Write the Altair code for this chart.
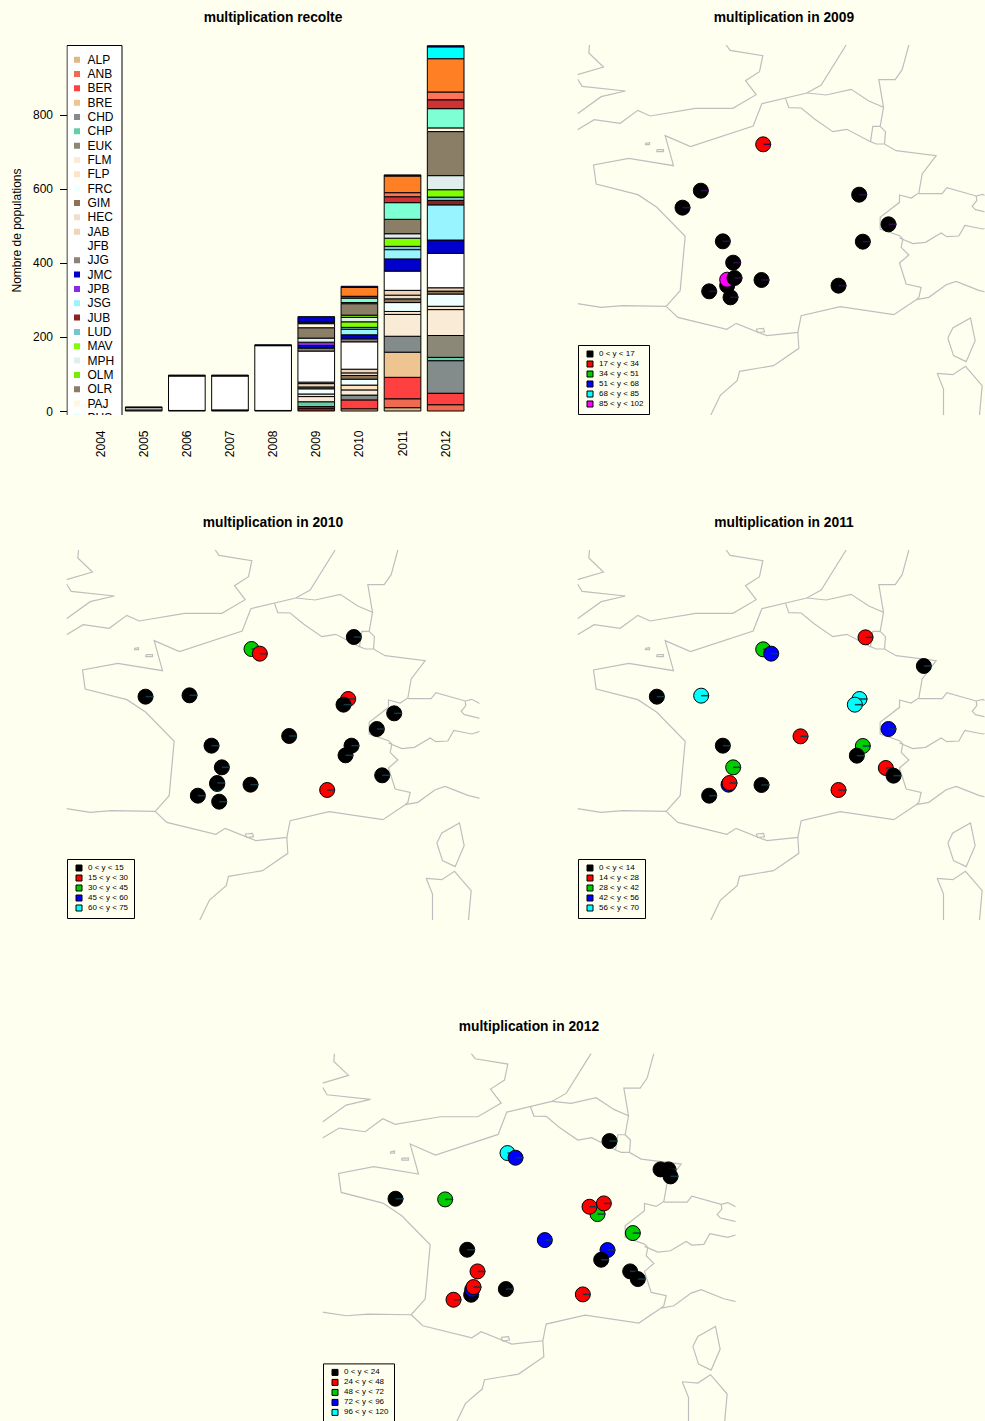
import altair as alt
import pandas as pd

BG = "#FFFFF0"
FONT = "Liberation Sans"

# ---------- bar panel ----------
years = ["2004", "2005", "2006", "2007", "2008", "2009", "2010", "2011", "2012"]
legend_names = ["ALP", "ANB", "BER", "BRE", "CHD", "CHP", "EUK", "FLM", "FLP", "FRC", "GIM", "HEC", "JAB", "JFB",
                "JJG", "JMC", "JPB", "JSG", "JUB", "LUD", "MAV", "MPH", "OLM", "OLR", "PAJ", "PUS"]
cat_names = legend_names + ["RAV", "SAL", "TOU", "VAL"]
cat_colors = ["#DEB887", "#EE6A50", "#FF4040", "#EEC591", "#838B8B", "#66CDAA", "#8B8878", "#FAEBD7", "#FFE4C4",
              "#F0FFFF", "#8B7355", "#EEDFCC", "#EED5B7", "#FFFFFF", "#8B8378", "#0000CD", "#8A2BE2", "#98F5FF",
              "#8B2323", "#7AC5CD", "#7FFF00", "#E0EEEE", "#76EE00", "#8B7E66", "#FFF8DC", "#7FFFD4", "#CD3333",
              "#FF7256", "#FF7F24", "#00FFFF"]

seg_2005 = [("CHD", 3), ("JFB", 6), ("JMC", 2)]
seg_2006 = [("EUK", 1.5), ("JFB", 93), ("JMC", 2.5)]
seg_2007 = [("GIM", 1.5), ("JAB", 1.5), ("JFB", 91.5), ("JMC", 2.5)]
seg_2008 = [("CHD", 1.5), ("JFB", 175), ("JMC", 2.5)]
seg_2009 = [("JUB", 8), ("CHD", 4), ("CHP", 13), ("FLM", 14), ("FLP", 7), ("FRC", 14), ("GIM", 5), ("JAB", 9),
            ("HEC", 4), ("JFB", 84), ("JJG", 8), ("JMC", 7), ("JPB", 9), ("MPH", 11), ("OLR", 28), ("PAJ", 11),
            ("GIM", 4), ("JMC", 15)]
seg_2010 = [("ALP", 6), ("BER", 24), ("CHD", 13), ("FLM", 14), ("FLP", 13), ("FRC", 16), ("GIM", 10), ("HEC", 7),
            ("JAB", 10), ("JFB", 74), ("JJG", 8), ("JMC", 11), ("JSG", 15), ("LUD", 5), ("MAV", 15), ("MPH", 12),
            ("OLM", 6), ("OLR", 31), ("PAJ", 3), ("PUS", 12), ("RAV", 5), ("TOU", 24), ("JMC", 3)]
seg_2011 = [("ALP", 9), ("ANB", 24), ("BER", 58), ("BRE", 68), ("CHD", 43), ("FLM", 59), ("FLP", 8), ("FRC", 24),
            ("GIM", 10), ("HEC", 10), ("JAB", 13), ("JFB", 52), ("JMC", 33), ("JSG", 25), ("LUD", 9), ("MAV", 22),
            ("MPH", 12), ("OLR", 39), ("PUS", 45), ("RAV", 16), ("SAL", 11), ("TOU", 45), ("JMC", 3)]
seg_2012 = [("ANB", 17), ("BER", 31), ("CHD", 88), ("CHP", 9), ("EUK", 59), ("FLM", 70), ("FLP", 9), ("FRC", 33),
            ("GIM", 8), ("JAB", 9), ("JFB", 93), ("JMC", 36), ("JSG", 95), ("JUB", 12), ("LUD", 9), ("MAV", 20),
            ("MPH", 38), ("OLR", 119), ("PAJ", 10), ("PUS", 52), ("RAV", 24), ("SAL", 21), ("TOU", 90), ("VAL", 32),
            ("JMC", 3)]
segments = {"2005": seg_2005, "2006": seg_2006, "2007": seg_2007, "2008": seg_2008, "2009": seg_2009,
            "2010": seg_2010, "2011": seg_2011, "2012": seg_2012}

# ---------- map outlines (map units) ----------
map_lines = [
    [(60, 18), (58, 42), (102, 84), (24, 107)],
    [(24, 120), (38, 142), (168, 156), (95, 173), (24, 224)],
    [(24, 272), (74, 242), (152, 253), (205, 214), (242, 231), (378, 208), (490, 208), (560, 167), (528, 125),
     (570, 98), (580, 50), (482, 34), (470, 18)],
    [(24, 794), (95, 805), (160, 800), (290, 802)],
    [(290, 802), (332, 755), (347, 592), (262, 505), (205, 467), (80, 435), (72, 378), (178, 358), (312, 380),
     (287, 290), (363, 323), (551, 261), (577, 194), (712, 162), (755, 138), (830, 18)],
    [(648, 178), (658, 206), (695, 207), (735, 240), (790, 278), (832, 271), (903, 308), (920, 315), (945, 315),
     (980, 335), (1100, 350), (1058, 405), (1048, 462), (1025, 477), (990, 468), (990, 490), (932, 535), (932, 570),
     (990, 590), (1000, 600), (995, 625), (1018, 648), (990, 672), (1010, 735), (1055, 745), (1048, 775), (1040, 782),
     (973, 827), (812, 803), (695, 830), (685, 880), (592, 890), (500, 853), (472, 871), (325, 835), (290, 802)],
    [(685, 880), (688, 928), (612, 980), (510, 997), (503, 1025), (453, 1068), (424, 1128)],
    [(712, 162), (770, 168), (845, 151), (898, 186), (942, 205), (928, 122), (977, 122), (998, 92), (1018, 18)],
    [(942, 205), (932, 262), (910, 262), (903, 308)],
    [(932, 262), (948, 278), (945, 315)],
    [(1048, 464), (1118, 464), (1132, 446), (1220, 471), (1240, 466), (1265, 479)],
    [(1220, 471), (1222, 485), (1208, 502), (1218, 512), (1265, 523)],
    [(990, 597), (1030, 614), (1068, 610), (1115, 582), (1132, 593), (1168, 591), (1186, 559), (1240, 570), (1265, 562)],
    [(1040, 782), (1078, 775), (1130, 737), (1160, 727), (1228, 754), (1265, 763)],
    [(1135, 897), (1150, 867), (1203, 837), (1217, 905), (1190, 968), (1152, 950), (1135, 897)],
    [(1103, 1003), (1150, 1007), (1188, 982), (1238, 1040), (1230, 1128)],
    [(1103, 1003), (1122, 1050), (1122, 1128)],
    [(228, 313), (240, 311), (240, 317), (228, 317), (228, 313)],
    [(262, 332), (282, 332), (282, 338), (262, 338), (262, 332)],
    [(560, 870), (582, 868), (585, 878), (565, 881), (560, 870)],
]

# ---------- pies: (x, y, class index) in draw order ----------
pts_2009 = [(581, 316, 1), (394, 455, 0), (339, 506, 0), (869, 467, 0), (957, 556, 0), (880, 608, 0), (460, 607, 0),
            (491, 671, 0), (576, 723, 0), (807, 740, 0), (419, 757, 0), (483, 775, 0), (473, 740, 0), (473, 722, 5),
            (495, 717, 0)]
pts_2010 = [(886, 279, 0), (579, 315, 2), (604, 329, 1), (261, 458, 0), (393, 454, 0), (869, 465, 1), (855, 482, 0),
            (1007, 508, 0), (955, 555, 0), (692, 576, 0), (459, 605, 0), (879, 605, 0), (861, 634, 0), (490, 670, 0),
            (971, 694, 0), (576, 722, 0), (476, 720, 4), (476, 717, 0), (806, 738, 1), (418, 755, 0), (482, 773, 0)]
pts_2011 = [(888, 280, 1), (581, 316, 2), (605, 329, 3), (1063, 366, 0), (262, 458, 0), (395, 455, 4), (870, 465, 4),
            (856, 482, 4), (957, 555, 3), (693, 577, 1), (460, 605, 0), (880, 606, 2), (862, 635, 0), (491, 670, 2),
            (949, 672, 1), (972, 695, 0), (576, 723, 0), (477, 722, 3), (480, 717, 1), (807, 738, 1), (419, 755, 0)]
pts_2012 = [(885, 281, 0), (579, 317, 4), (603, 331, 3), (1038, 366, 0), (1062, 366, 0), (1068, 387, 0), (243, 454, 0),
            (392, 456, 2), (849, 500, 2), (868, 468, 1), (825, 478, 1), (955, 557, 2), (691, 578, 3), (879, 608, 3),
            (860, 637, 0), (458, 607, 0), (489, 672, 1), (947, 672, 0), (970, 695, 0), (574, 725, 0), (470, 742, 0),
            (473, 727, 3), (477, 719, 1), (805, 741, 1), (417, 757, 1)]

class_colors = ["#000000", "#FF0000", "#00CD00", "#0000FF", "#00FFFF", "#FF00FF"]
labels_2009 = ["0 < y < 17", "17 < y < 34", "34 < y < 51", "51 < y < 68", "68 < y < 85", "85 < y < 102"]
labels_2010 = ["0 < y < 15", "15 < y < 30", "30 < y < 45", "45 < y < 60", "60 < y < 75"]
labels_2011 = ["0 < y < 14", "14 < y < 28", "28 < y < 42", "42 < y < 56", "56 < y < 70"]
labels_2012 = ["0 < y < 24", "24 < y < 48", "48 < y < 72", "72 < y < 96", "96 < y < 120"]


def title(text, dx=0):
    return alt.TitleParams(text=text, font=FONT, fontSize=13.8, fontWeight="bold", color="black", offset=20,
                           anchor="middle", dx=dx)


def bar_panel():
    rows = []
    for year, seg in segments.items():
        for i, (c, v) in enumerate(seg):
            rows.append({"year": year, "cat": c, "v": v, "rank": i})
    df = pd.DataFrame(rows)
    bars = alt.Chart(df).mark_bar(stroke="black", strokeWidth=1).encode(
        x=alt.X("year:O", scale=alt.Scale(domain=years, range=[15.75, 397.5], paddingInner=0.15, paddingOuter=0),
                axis=alt.Axis(title=None, labelAngle=-90, labelFont=FONT, labelFontSize=12, labelColor="black",
                              ticks=False, domain=False, labelPadding=15, labelBaseline="middle")),
        y=alt.Y("v:Q", stack="zero", scale=alt.Scale(domain=[-10.8, 989], nice=False, zero=False),
                axis=alt.Axis(title="Nombre de populations", values=[0, 200, 400, 600, 800], grid=False, domain=False,
                              tickSize=7, tickColor="black", labelFont=FONT, labelFontSize=12, labelColor="black",
                              labelPadding=7, titleFont=FONT, titleFontSize=12, titleFontWeight="normal",
                              titleColor="black", titlePadding=9)),
        fill=alt.Fill("cat:N", scale=alt.Scale(domain=cat_names, range=cat_colors), legend=None),
        order=alt.Order("rank:Q"),
    )
    leg = pd.DataFrame({"name": legend_names, "row": list(range(len(legend_names)))})
    box = alt.Chart(leg.head(1)).mark_rect(fill="white", stroke="black", strokeWidth=1, clip=True).encode(
        x=alt.value(0.5), x2=alt.value(55.5), y=alt.value(0.5), y2=alt.value(380))
    ry = alt.Y("row:Q", axis=None, scale=alt.Scale(domain=[-1.027, 24.8], range=[0, 370], nice=False, zero=False))
    swatch = alt.Chart(leg).mark_square(size=36, clip=True, opacity=1).encode(
        x=alt.value(10.5), y=ry,
        fill=alt.Fill("name:N", scale=alt.Scale(domain=cat_names, range=cat_colors), legend=None))
    text = alt.Chart(leg).mark_text(align="left", baseline="middle", clip=True, font=FONT, fontSize=12,
                                    color="black").encode(x=alt.value(21), y=ry, text="name:N")
    return alt.layer(bars, box, swatch, text).resolve_scale(y="independent", x="independent").properties(
        width=413, height=370, title=title("multiplication recolte"))


def map_panel(name, pts, labels, legend_y, width=413, height=370):
    lrows = []
    for g, line in enumerate(map_lines):
        for i, (x, y) in enumerate(line):
            lrows.append({"g": g, "i": i, "x": x, "y": y})
    xs = alt.Scale(domain=[24, 24 + width * 3], nice=False, zero=False)
    ys = alt.Scale(domain=[18 + height * 3, 18], nice=False, zero=False)
    lines = alt.Chart(pd.DataFrame(lrows)).mark_line(color="#BEBEBE", strokeWidth=1.2, clip=True).encode(
        x=alt.X("x:Q", scale=xs, axis=None), y=alt.Y("y:Q", scale=ys, axis=None),
        detail="g:N", order="i:Q")
    spoke_color = "#300A50" if name.endswith("2009") else "#0E3A44"
    prows = []
    for x, y, c in pts:
        prows.append({"x": x, "y": y, "cls": labels[c], "kind": "disk", "pen": "#000000", "w": 1})
        prows.append({"x": x, "y": y, "cls": labels[c], "kind": "spoke", "pen": spoke_color, "w": 1.5})
    pies = alt.Chart(pd.DataFrame(prows)).mark_point(filled=True, opacity=1, size=225).encode(
        x=alt.X("x:Q", scale=xs, axis=None), y=alt.Y("y:Q", scale=ys, axis=None),
        shape=alt.Shape("kind:N", scale=alt.Scale(domain=["disk", "spoke"], range=["circle", "M0,0L1.07,0"]),
                        legend=None),
        stroke=alt.Stroke("pen:N", scale=None),
        strokeWidth=alt.StrokeWidth("w:Q", scale=None),
        fill=alt.Fill("cls:N", scale=alt.Scale(domain=labels, range=class_colors[:len(labels)]),
                      legend=alt.Legend(title=None, orient="none", legendX=0.5, legendY=legend_y, symbolType="square",
                                        symbolSize=36, symbolStrokeColor="black", symbolStrokeWidth=1,
                                        labelFont=FONT, labelFontSize=8, labelColor="black", labelOffset=5,
                                        padding=5, rowPadding=0, strokeColor="black", symbolOffset=3,
                                        values=labels)),
    )
    return alt.layer(lines, pies).properties(width=width, height=height, title=title(name, dx=(413 - width) / 2))


def spacer(w):
    return alt.Chart(pd.DataFrame({"a": [0]})).mark_point(opacity=0).encode(x=alt.value(0)).properties(width=w, height=1)


def indep(c):
    return c.resolve_scale(fill="independent", shape="independent", x="independent", y="independent")


row1 = indep(alt.hconcat(bar_panel(), map_panel("multiplication in 2009", pts_2009, labels_2009, 300, width=407),
                         spacing=98))
row2 = indep(alt.hconcat(map_panel("multiplication in 2010", pts_2010, labels_2010, 309),
                         map_panel("multiplication in 2011", pts_2011, labels_2011, 309, width=407),
                         spacing=98))
row3 = indep(alt.hconcat(spacer(256), map_panel("multiplication in 2012", pts_2012, labels_2012, 310, height=368),
                         spacing=0))

chart = indep(alt.vconcat(indep(alt.vconcat(row1, row2, spacing=59)), row3, spacing=99.4)).properties(
    background=BG, padding={"left": 9.5, "top": 11, "right": 0, "bottom": -2}
).configure_view(stroke=None)

chart.save("out.html", embed_options={"renderer": "svg", "actions": False,
                                      "defaultStyle": "body{background:#FFFFF0;margin:0;}"})
